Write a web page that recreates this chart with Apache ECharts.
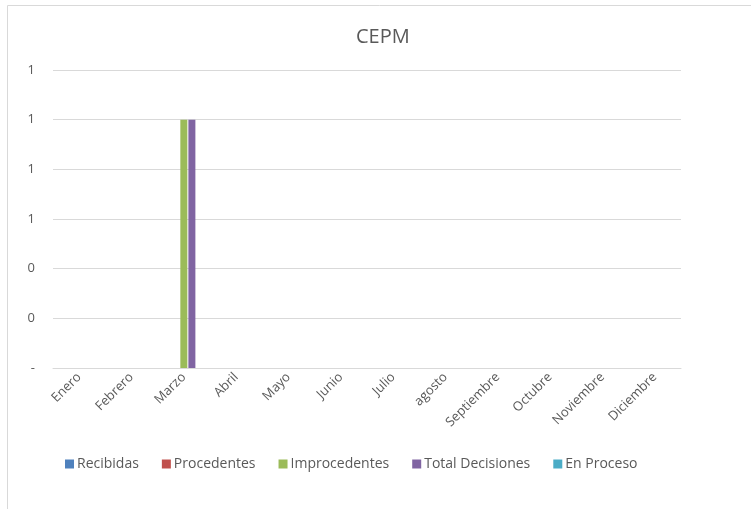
<!DOCTYPE html>
<html>
<head>
<meta charset="utf-8">
<script src="https://cdn.jsdelivr.net/npm/echarts@6/dist/echarts.min.js"></script>
<style>
html,body{margin:0;padding:0;background:#fff;}
#chart{width:751px;height:509px;}
</style>
</head>
<body>
<div id="chart"></div>
<script>
const categories = ['Enero','Febrero','Marzo','Abril','Mayo','Junio','Julio','agosto','Septiembre','Octubre','Noviembre','Diciembre'];
const recibidas       = [0,0,0,0,0,0,0,0,0,0,0,0];
const procedentes     = [0,0,0,0,0,0,0,0,0,0,0,0];
const improcedentes   = [0,0,1,0,0,0,0,0,0,0,0,0];
const totalDecisiones = [0,0,1,0,0,0,0,0,0,0,0,0];
const enProceso       = [0,0,0,0,0,0,0,0,0,0,0,0];
const seriesNames = ['Recibidas','Procedentes','Improcedentes','Total Decisiones','En Proceso'];
const seriesData = [recibidas, procedentes, improcedentes, totalDecisiones, enProceso];
const colors = ['#4f81bd','#c0504d','#9bbb59','#8064a2','#4bacc6'];

const FONT = '"Open Sans", Lato, sans-serif';
const chart = echarts.init(document.getElementById('chart'));
chart.setOption({
  animation: false,
  color: colors,
  graphic: [{
    type: 'rect',
    shape: { x: 7.5, y: 5.5, width: 900, height: 700 },
    style: { fill: 'none', stroke: '#d9d9d9', lineWidth: 1 },
    silent: true, z: -1
  }],
  title: {
    text: 'CEPM',
    left: 351,
    top: 22,
    textStyle: { fontFamily: FONT, fontSize: 20, fontWeight: 'normal', color: '#595959' }
  },
  legend: {
    data: seriesNames,
    left: 60,
    top: 452,
    itemWidth: 9,
    itemHeight: 9,
    itemGap: 23,
    icon: 'rect',
    textStyle: { fontFamily: FONT, fontSize: 14, color: '#595959', padding: [0,0,0,-2] }
  },
  grid: { left: 53, right: 70, top: 70, bottom: 141, containLabel: false },
  xAxis: {
    type: 'category',
    data: categories,
    axisLine: { lineStyle: { color: '#d9d9d9', width: 1 } },
    axisTick: { show: false },
    axisLabel: { rotate: 45, interval: 0, margin: 7, fontFamily: FONT, fontSize: 13, color: '#595959' }
  },
  yAxis: {
    type: 'value',
    min: 0, max: 1.2, interval: 0.2,
    axisLine: { show: false },
    axisTick: { show: false },
    splitLine: { lineStyle: { color: '#d9d9d9', width: 1 } },
    axisLabel: {
      margin: 18, fontFamily: FONT, fontSize: 13, color: '#595959',
      formatter: function (v) { return Math.abs(v) < 1e-9 ? '-' : Math.round(v).toFixed(0); }
    }
  },
  series: seriesNames.map((n, i) => ({
    name: n,
    type: 'bar',
    data: seriesData[i],
    barWidth: 7,
    barGap: '15%'
  }))
});
</script>
</body>
</html>
